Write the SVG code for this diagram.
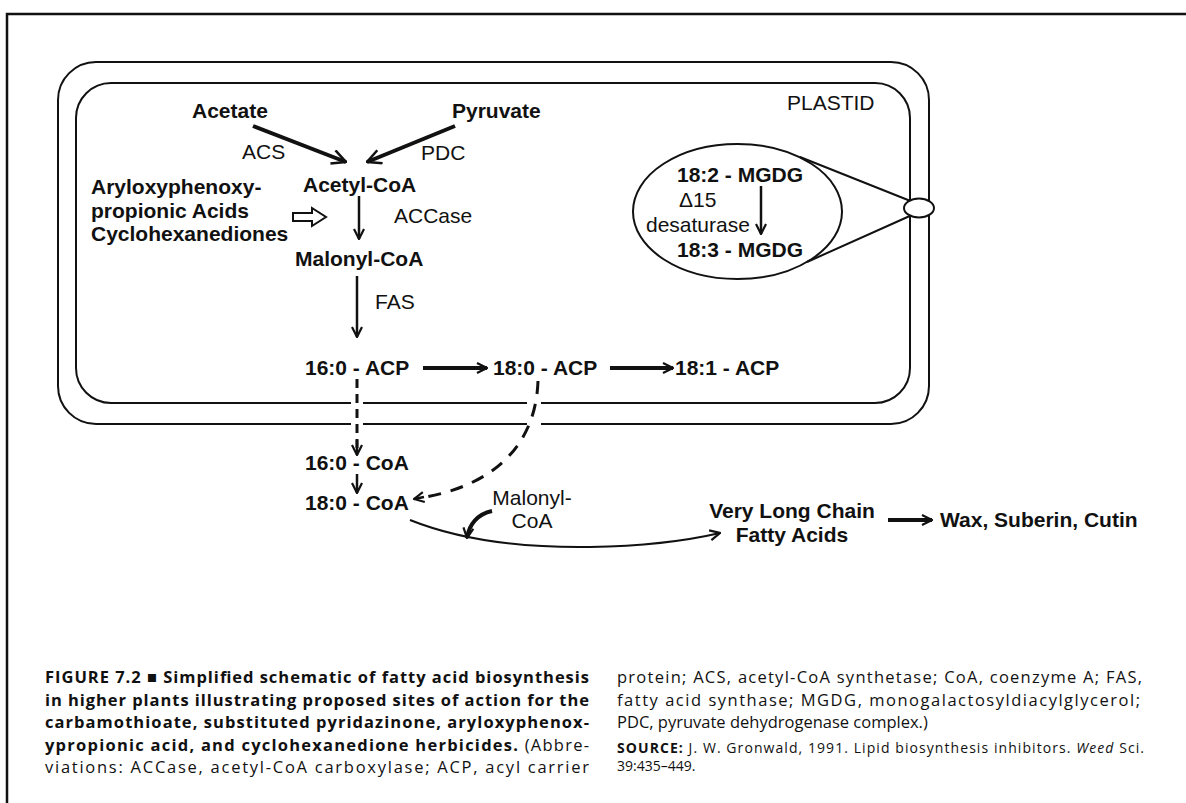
<svg xmlns="http://www.w3.org/2000/svg" width="1186" height="803" viewBox="0 0 1186 803">
<defs>
<style>
.b{font-family:"Liberation Sans",Arial,sans-serif;font-weight:bold;font-size:21px;fill:#111}
.r{font-family:"Liberation Sans",Arial,sans-serif;font-size:21px;fill:#111}
.cb{font-family:"Open Sans","Noto Sans",sans-serif;font-weight:bold;font-size:16.5px;fill:#111}
.cr{font-family:"Open Sans","Noto Sans",sans-serif;font-size:16.5px;fill:#111}
.cs{font-family:"Open Sans","Noto Sans",sans-serif;font-size:14px;fill:#111}
.mem{fill:none;stroke:#111;stroke-width:2}
.ln{fill:none;stroke:#111;stroke-width:2.5}
.th{fill:none;stroke:#111;stroke-width:4}
.dv{fill:none;stroke:#111;stroke-width:3;stroke-dasharray:9 6}
.dc{fill:none;stroke:#111;stroke-width:3;stroke-dasharray:13 10}
</style>
<marker id="ah" viewBox="0 0 12 12" refX="11" refY="6" markerWidth="12" markerHeight="12" markerUnits="userSpaceOnUse" orient="auto">
<path d="M1,1 L11,6 L1,11" fill="none" stroke="#111" stroke-width="2.2"/>
</marker>
<marker id="ahb" viewBox="0 0 16 16" refX="15" refY="8" markerWidth="16" markerHeight="16" markerUnits="userSpaceOnUse" orient="auto">
<path d="M1,1 L15,8 L1,15" fill="none" stroke="#111" stroke-width="2.5"/>
</marker>
</defs>
<rect width="1186" height="803" fill="#fff"/>
<path d="M7,803 L7,14 L1186,14" fill="none" stroke="#111" stroke-width="2.5"/>

<g id="plastid">
<rect class="mem" x="58" y="62" width="871" height="362" rx="38"/>
<rect class="mem" x="76" y="83" width="834" height="320" rx="35"/>
<rect x="351" y="396" width="12" height="34" fill="#fff"/>
<rect x="527" y="396" width="14" height="34" fill="#fff"/>
<text class="r" x="787" y="110">PLASTID</text>
</g>

<g id="acetate"><text class="b" x="192" y="118">Acetate</text></g>
<g id="pyruvate"><text class="b" x="452" y="118">Pyruvate</text></g>
<g id="acs"><text class="r" x="242" y="159">ACS</text></g>
<g id="pdc"><text class="r" x="421" y="160">PDC</text></g>
<g id="acetylcoa"><text class="b" x="303" y="192">Acetyl-CoA</text></g>
<g id="inhibitors">
<text class="b" x="91" y="194">Aryloxyphenoxy-</text>
<text class="b" x="91" y="218">propionic Acids</text>
<text class="b" x="91" y="241">Cyclohexanediones</text>
</g>
<g id="accase"><text class="r" x="394" y="223">ACCase</text></g>
<g id="malonylcoa"><text class="b" x="295" y="266">Malonyl-CoA</text></g>
<g id="fas"><text class="r" x="375" y="309">FAS</text></g>
<g id="acp160"><text class="b" x="305" y="375">16:0 - ACP</text></g>
<g id="acp180"><text class="b" x="493" y="375">18:0 - ACP</text></g>
<g id="acp181"><text class="b" x="675" y="375">18:1 - ACP</text></g>
<g id="coa160"><text class="b" x="305" y="470">16:0 - CoA</text></g>
<g id="coa180"><text class="b" x="305" y="510">18:0 - CoA</text></g>
<g id="malonyl2"><text class="r" x="532" y="505" text-anchor="middle">Malonyl-</text><text class="r" x="532" y="528" text-anchor="middle">CoA</text></g>
<g id="vlcfa"><text class="b" x="792" y="518" text-anchor="middle">Very Long Chain</text><text class="b" x="792" y="542" text-anchor="middle">Fatty Acids</text></g>
<g id="wax"><text class="b" x="940" y="527">Wax, Suberin, Cutin</text></g>

<g id="mgdg">
<ellipse cx="737.5" cy="211.5" rx="104.5" ry="67.5" fill="none" stroke="#111" stroke-width="2"/>
<path d="M800,157 L913,202 M807,262 L912,215" fill="none" stroke="#111" stroke-width="2"/>
<ellipse cx="919" cy="208" rx="15" ry="9.5" fill="#fff" stroke="#111" stroke-width="2"/>
<text class="b" x="677" y="182">18:2 - MGDG</text>
<text class="r" x="679" y="207">Δ15</text>
<text class="r" x="646" y="232">desaturase</text>
<text class="b" x="677" y="257">18:3 - MGDG</text>
<path d="M761,186 L761,234" class="ln" stroke-width="2" marker-end="url(#ah)"/>
</g>

<g id="connectors">
<path class="th" d="M253,126 L346,162" marker-end="url(#ahb)"/>
<path class="th" d="M455,126 L367,162" marker-end="url(#ahb)"/>
<path class="ln" d="M359,196 L359,239" marker-end="url(#ah)"/>
<path d="M293,213 L312,213 L312,208 L326,217 L312,226 L312,221 L293,221 Z" fill="#fff" stroke="#111" stroke-width="2"/>
<path class="ln" d="M357,276 L357,337" marker-end="url(#ah)"/>
<path class="th" d="M423,368 L487,368" stroke-width="3.5" marker-end="url(#ah)"/>
<path class="th" d="M610,368 L673,368" stroke-width="3.5" marker-end="url(#ah)"/>
<path class="dv" d="M357,379 L357,452"/>
<path class="ln" d="M357,440 L357,455" marker-end="url(#ah)"/>
<path class="ln" d="M357,474 L357,493" stroke-width="2" marker-end="url(#ah)"/>
<path class="dc" d="M538,381 C536,440 500,485 420,498"/>
<path class="ln" d="M424,497 L414,499" marker-end="url(#ah)"/>
<path fill="none" stroke="#111" stroke-width="2" d="M410,520 C460,540 520,548 590,547 C650,546 690,540 720,533" marker-end="url(#ah)"/>
<path class="th" stroke-width="3.5" d="M492,511 C478,514 469,524 467,538" marker-end="url(#ah)"/>
<path class="th" stroke-width="3" d="M888,520 L932,520" marker-end="url(#ah)"/>
</g>

<g id="caption">
<text class="cb" x="45" y="683" textLength="544" lengthAdjust="spacing">FIGURE 7.2 ■ Simplified schematic of fatty acid biosynthesis</text>
<text class="cb" x="45" y="705.5" textLength="544" lengthAdjust="spacing">in higher plants illustrating proposed sites of action for the</text>
<text class="cb" x="45" y="728" textLength="544" lengthAdjust="spacing">carbamothioate, substituted pyridazinone, aryloxyphenox-</text>
<text class="cb" x="45" y="750.5" textLength="544" lengthAdjust="spacing">ypropionic acid, and cyclohexanedione herbicides. <tspan font-weight="normal">(Abbre-</tspan></text>
<text class="cr" x="45" y="773" textLength="544" lengthAdjust="spacing">viations: ACCase, acetyl-CoA carboxylase; ACP, acyl carrier</text>
<text class="cr" x="617" y="683" textLength="525" lengthAdjust="spacing">protein; ACS, acetyl-CoA synthetase; CoA, coenzyme A; FAS,</text>
<text class="cr" x="617" y="705.5" textLength="523" lengthAdjust="spacing">fatty acid synthase; MGDG, monogalactosyldiacylglycerol;</text>
<text class="cr" x="617" y="728">PDC, pyruvate dehydrogenase complex.)</text>
<text class="cs" x="617" y="753" textLength="527" lengthAdjust="spacing"><tspan font-weight="bold">SOURCE:</tspan> J. W. Gronwald, 1991. Lipid biosynthesis inhibitors. <tspan font-style="italic">Weed</tspan> Sci.</text>
<text class="cs" x="617" y="771">39:435–449.</text>
</g>
</svg>
